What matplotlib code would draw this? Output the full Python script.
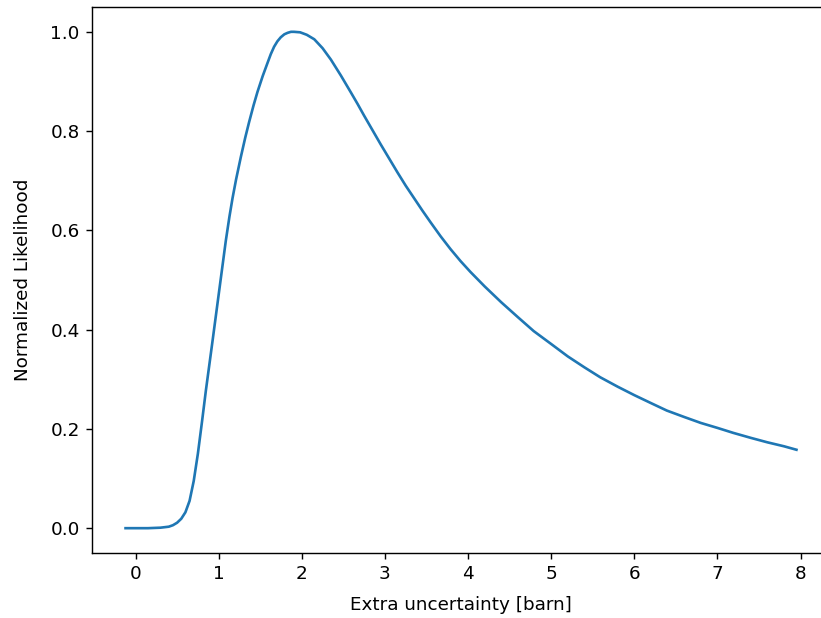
import matplotlib
matplotlib.use("Agg")
import matplotlib.pyplot as plt

# values
sigma = [-0.12, 0.0, 0.15, 0.30, 0.40, 0.45, 0.50, 0.55, 0.60, 0.65, 0.70, 0.75,
         0.80, 0.846, 0.927, 1.006, 1.086, 1.13, 1.167, 1.21, 1.267, 1.32, 1.366,
         1.42, 1.467, 1.53, 1.587, 1.627, 1.667, 1.707, 1.747, 1.79, 1.83, 1.87,
         1.906, 1.98, 2.06, 2.15, 2.25, 2.35, 2.47, 2.59, 2.67, 2.75, 2.85, 2.95,
         3.05, 3.15, 3.25, 3.35, 3.45, 3.55, 3.67, 3.79, 3.91, 4.03, 4.20, 4.40,
         4.60, 4.79, 5.00, 5.20, 5.40, 5.59, 5.80, 6.00, 6.20, 6.39, 6.60, 6.80,
         7.00, 7.19, 7.40, 7.60, 7.80, 7.95]
likelihood = [0.0, 0.0, 0.0, 0.001, 0.003, 0.006, 0.011, 0.019, 0.032, 0.055, 0.095, 0.150,
              0.215, 0.277, 0.378, 0.478, 0.579, 0.628, 0.665, 0.703, 0.748, 0.787, 0.818,
              0.852, 0.879, 0.911, 0.937, 0.955, 0.970, 0.981, 0.989, 0.995, 0.998, 1.0,
              1.0, 0.999, 0.994, 0.985, 0.967, 0.944, 0.912, 0.878, 0.855, 0.831, 0.802, 0.773,
              0.745, 0.717, 0.690, 0.665, 0.640, 0.616, 0.588, 0.562, 0.538, 0.516, 0.487, 0.455,
              0.425, 0.397, 0.371, 0.346, 0.324, 0.304, 0.285, 0.268, 0.252, 0.237, 0.224, 0.212,
              0.202, 0.192, 0.182, 0.173, 0.165, 0.158]

s = 1.27
plt.rcParams['font.size'] = 13.2
plt.rcParams['axes.linewidth'] = 0.8 * s
for a in ('xtick', 'ytick'):
    plt.rcParams[a + '.major.size'] = 3.5 * s
    plt.rcParams[a + '.major.width'] = 0.8 * s
    plt.rcParams[a + '.major.pad'] = 3.5 * s

fig = plt.figure(figsize=(8.21, 6.18), dpi=100)
ax = fig.add_axes([92 / 821, 65 / 618, 738 / 821, 546 / 618])
ax.plot(sigma, likelihood, color='C0', linewidth=1.5 * s)
ax.set_xlabel("Extra uncertainty [barn]", labelpad=9)
ax.set_ylabel("Normalized Likelihood", labelpad=13)
ax.set_xticks(range(0, 9))
ax.set_yticks([0.0, 0.2, 0.4, 0.6, 0.8, 1.0])

fig.savefig("out.png", dpi=100)
